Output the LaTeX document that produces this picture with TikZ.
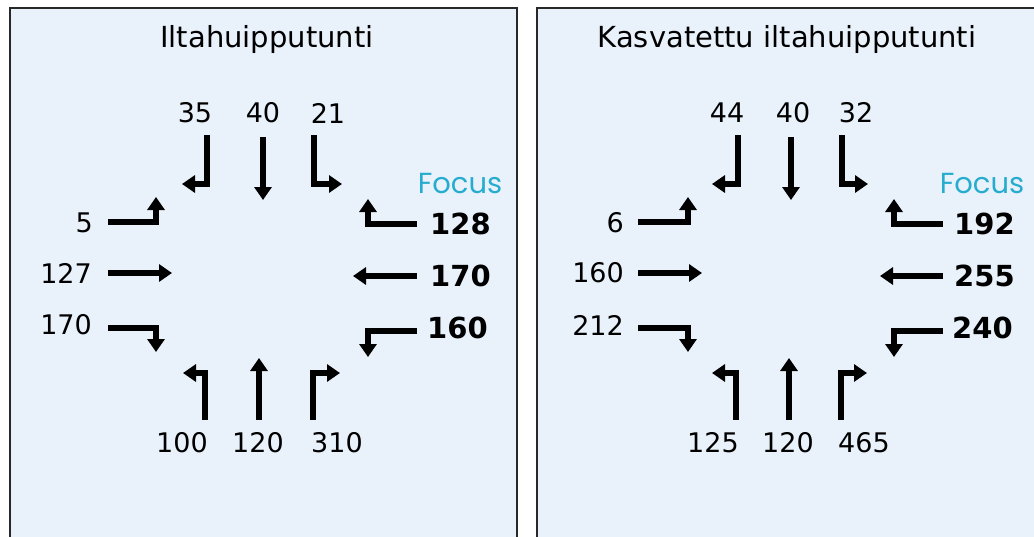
\documentclass[tikz,border=0pt]{standalone}
\usepackage{fontspec}
\setmainfont{DejaVu Sans}
\newfontfamily\focusfont{Poppins}
\usetikzlibrary{arrows.meta}
\definecolor{panelbg}{RGB}{233,242,251}
\definecolor{focuscol}{RGB}{38,172,206}
\definecolor{framecol}{RGB}{40,40,40}
\begin{document}
\begin{tikzpicture}[x=1pt,y=-1pt,
 panel/.style={fill=panelbg, draw=framecol, line width=1.5pt},
 arr/.style={line width=5.2pt, line join=miter, -{Triangle[length=13pt,width=17pt]}},
 num/.style={inner sep=0pt, font=\fontsize{27}{27}\selectfont},
 bnum/.style={inner sep=0pt, anchor=west, font=\fontsize{29}{29}\selectfont\bfseries},
 ttl/.style={inner sep=0pt, anchor=base, font=\fontsize{29}{29}\selectfont},
 foc/.style={inner sep=0pt, anchor=base, text=focuscol, font=\focusfont\fontsize{29}{29}\selectfont}]
\useasboundingbox (0,0) rectangle (1034,536);
\clip (0,0) rectangle (1034,536);
\draw[panel] (10,8) rectangle (517,560);
\draw[panel] (537,8) rectangle (1060,560);

% ---------- left panel ----------
\node[ttl] (t1) at (267,47) {Iltahuipputunti};
\node[num] (n35) at (195,113) {35};
\node[num] (n40) at (263,113) {40};
\node[num] (n21) at (328,113) {21};
\coordinate (a1s) at (207,135); \coordinate (a1e) at (182,184);
\coordinate (a2s) at (263,137); \coordinate (a2e) at (263,200);
\coordinate (a3s) at (314,135); \coordinate (a3e) at (342,184);
\draw[arr] (a1s) |- (a1e);
\draw[arr] (a2s) -- (a2e);
\draw[arr] (a3s) |- (a3e);

\node[foc] (f1) at (460,193) {Focus};
\node[bnum] (e1) at (430,224) {128};
\node[bnum] (e2) at (430,276) {170};
\node[bnum] (e3) at (427,328) {160};
\coordinate (b1s) at (417,224); \coordinate (b1e) at (368,199);
\coordinate (b2s) at (417,276); \coordinate (b2e) at (353,276);
\coordinate (b3s) at (417,331); \coordinate (b3e) at (368,357);
\draw[arr] (b1s) -| (b1e);
\draw[arr] (b2s) -- (b2e);
\draw[arr] (b3s) -| (b3e);

\node[num, anchor=east] (w1) at (93,223) {5};
\node[num, anchor=east] (w2) at (92,273) {127};
\node[num, anchor=east] (w3) at (92,325) {170};
\coordinate (c1s) at (108,222); \coordinate (c1e) at (156,197);
\coordinate (c2s) at (108,273); \coordinate (c2e) at (172,273);
\coordinate (c3s) at (108,328); \coordinate (c3e) at (156,352);
\draw[arr] (c1s) -| (c1e);
\draw[arr] (c2s) -- (c2e);
\draw[arr] (c3s) -| (c3e);

\node[num] (s1) at (182,443) {100};
\node[num] (s2) at (258,443) {120};
\node[num] (s3) at (337,443) {310};
\coordinate (d1s) at (205,420); \coordinate (d1e) at (183,373);
\coordinate (d2s) at (259,420); \coordinate (d2e) at (259,358);
\coordinate (d3s) at (313,420); \coordinate (d3e) at (340,373);
\draw[arr] (d1s) |- (d1e);
\draw[arr] (d2s) -- (d2e);
\draw[arr] (d3s) |- (d3e);

% ---------- right panel ----------
\node[ttl] (t2) at (787,47) {Kasvatettu iltahuipputunti};
\node[num] (m44) at (727,113) {44};
\node[num] (m40) at (793,113) {40};
\node[num] (m32) at (856,113) {32};
\coordinate (p1s) at (738,135); \coordinate (p1e) at (712,184);
\coordinate (p2s) at (791,137); \coordinate (p2e) at (791,200);
\coordinate (p3s) at (842,135); \coordinate (p3e) at (868,184);
\draw[arr] (p1s) |- (p1e);
\draw[arr] (p2s) -- (p2e);
\draw[arr] (p3s) |- (p3e);

\node[foc] (f2) at (982,193) {Focus};
\node[bnum] (g1) at (954,224) {192};
\node[bnum] (g2) at (954,276) {255};
\node[bnum] (g3) at (952,328) {240};
\coordinate (q1s) at (943,224); \coordinate (q1e) at (894,199);
\coordinate (q2s) at (943,276); \coordinate (q2e) at (880,276);
\coordinate (q3s) at (943,331); \coordinate (q3e) at (894,357);
\draw[arr] (q1s) -| (q1e);
\draw[arr] (q2s) -- (q2e);
\draw[arr] (q3s) -| (q3e);

\node[num, anchor=east] (v1) at (624,223) {6};
\node[num, anchor=east] (v2) at (624,273) {160};
\node[num, anchor=east] (v3) at (624,325) {212};
\coordinate (r1s) at (638,222); \coordinate (r1e) at (688,197);
\coordinate (r2s) at (638,273); \coordinate (r2e) at (702,273);
\coordinate (r3s) at (638,328); \coordinate (r3e) at (688,352);
\draw[arr] (r1s) -| (r1e);
\draw[arr] (r2s) -- (r2e);
\draw[arr] (r3s) -| (r3e);

\node[num] (u1) at (713,443) {125};
\node[num] (u2) at (788,443) {120};
\node[num] (u3) at (864,443) {465};
\coordinate (k1s) at (736,420); \coordinate (k1e) at (712,373);
\coordinate (k2s) at (789,420); \coordinate (k2e) at (789,358);
\coordinate (k3s) at (841,420); \coordinate (k3e) at (867,373);
\draw[arr] (k1s) |- (k1e);
\draw[arr] (k2s) -- (k2e);
\draw[arr] (k3s) |- (k3e);
\end{tikzpicture}
\end{document}
